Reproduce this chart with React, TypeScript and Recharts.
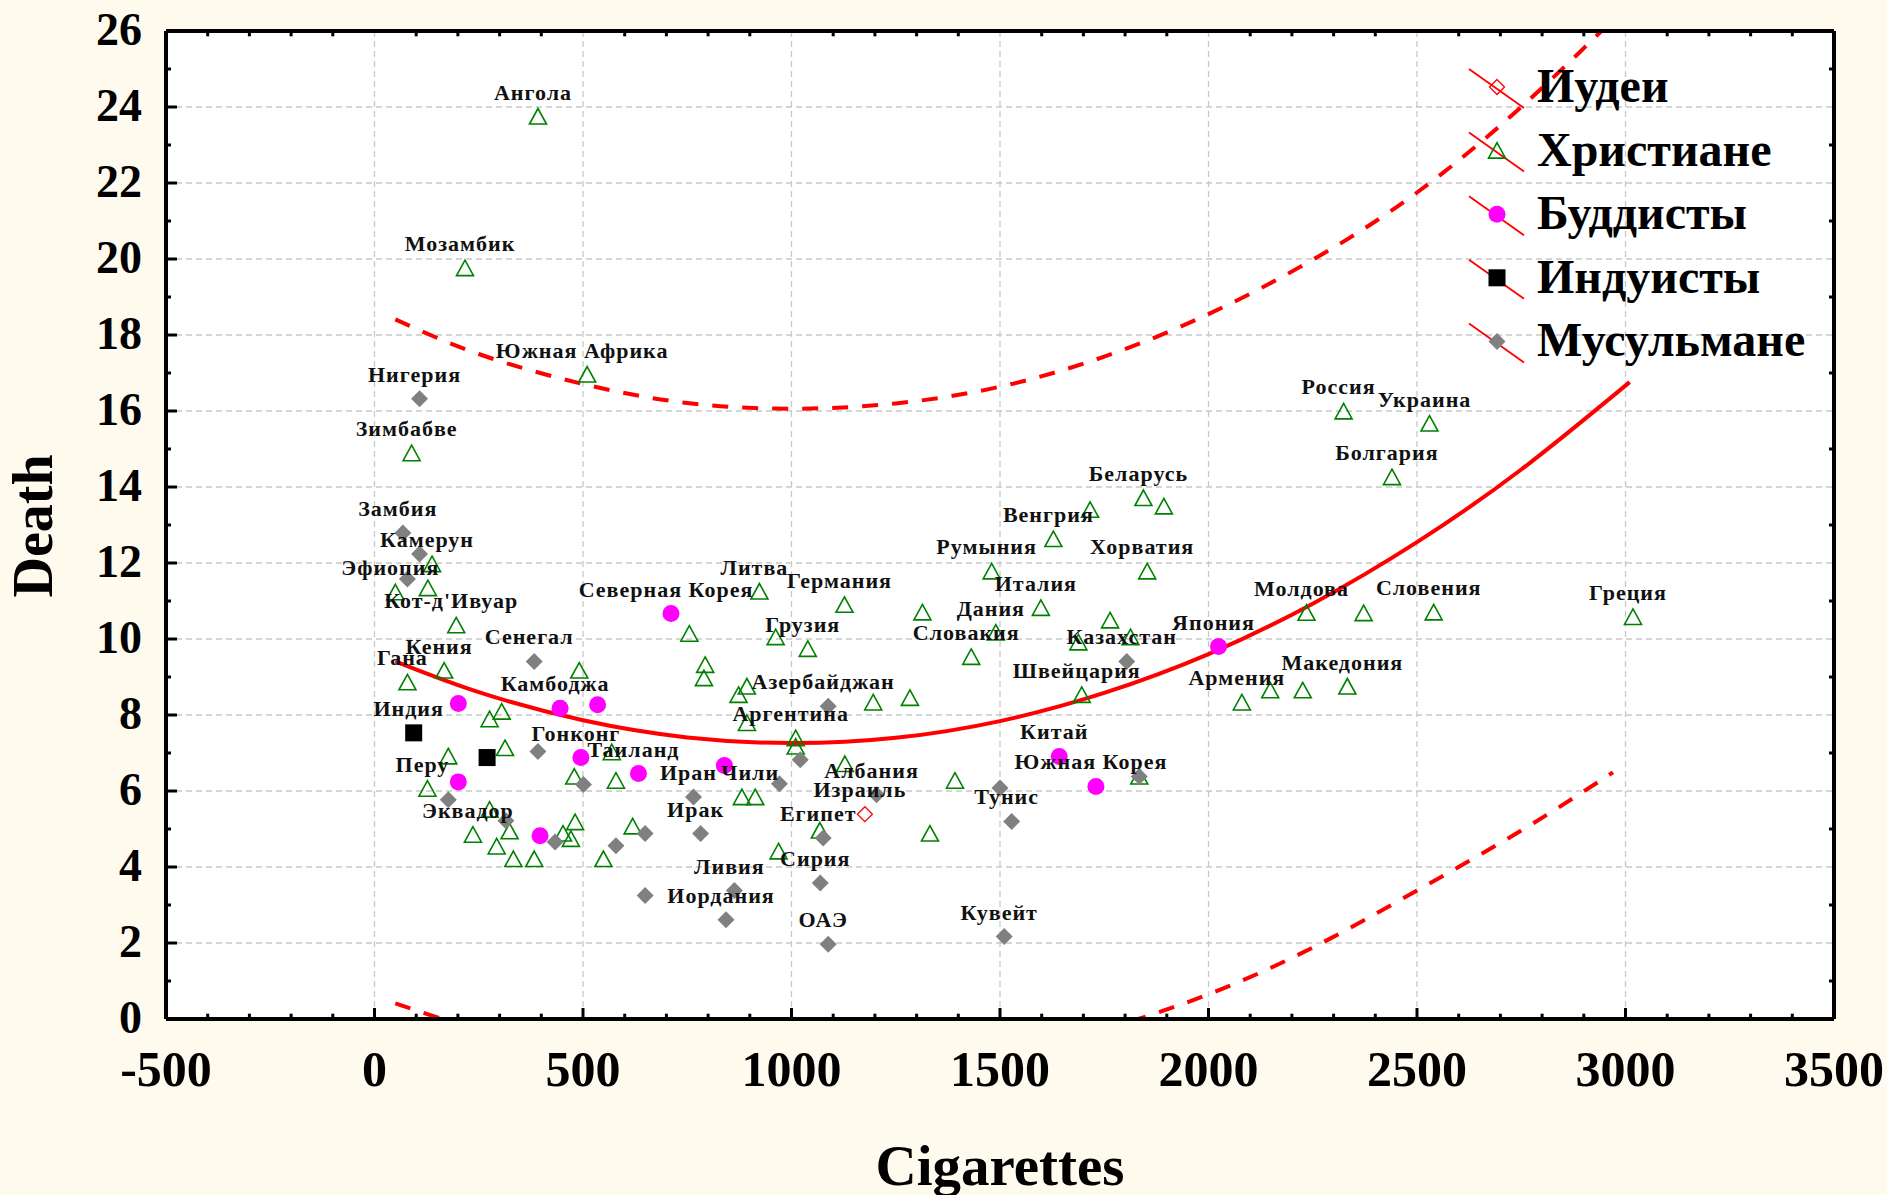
import React from 'react';
import { ComposedChart, Scatter, Line, XAxis, YAxis, CartesianGrid, ReferenceLine } from 'recharts';

// Иудеи
const jews = [{ x: 1176, y: 5.39, name: 'Израиль' }];

// Христиане
const christians = [
  { x: 392, y: 23.75, name: 'Ангола' },
  { x: 217, y: 19.76, name: 'Мозамбик' },
  { x: 510, y: 16.96, name: 'Южная Африка' },
  { x: 89, y: 14.89, name: 'Зимбабве' },
  { x: 138, y: 11.97, name: 'Камерун' },
  { x: 50, y: 11.23, name: 'Эфиопия' },
  { x: 128, y: 11.34, name: '' },
  { x: 196, y: 10.36, name: "Кот-д'Ивуар" },
  { x: 167, y: 9.17, name: 'Кения' },
  { x: 79, y: 8.86, name: 'Гана' },
  { x: 491, y: 9.17, name: '' },
  { x: 305, y: 8.09, name: '' },
  { x: 276, y: 7.89, name: '' },
  { x: 177, y: 6.91, name: '' },
  { x: 313, y: 7.13, name: '' },
  { x: 127, y: 6.06, name: 'Перу' },
  { x: 569, y: 7.02, name: '' },
  { x: 479, y: 6.38, name: '' },
  { x: 579, y: 6.27, name: '' },
  { x: 276, y: 5.51, name: '' },
  { x: 236, y: 4.85, name: 'Эквадор' },
  { x: 324, y: 4.94, name: '' },
  { x: 293, y: 4.54, name: '' },
  { x: 333, y: 4.21, name: '' },
  { x: 383, y: 4.21, name: '' },
  { x: 452, y: 4.88, name: '' },
  { x: 471, y: 4.74, name: '' },
  { x: 481, y: 5.18, name: '' },
  { x: 549, y: 4.21, name: '' },
  { x: 619, y: 5.07, name: '' },
  { x: 755, y: 10.14, name: '' },
  { x: 793, y: 9.32, name: '' },
  { x: 790, y: 8.97, name: '' },
  { x: 923, y: 11.25, name: 'Литва' },
  { x: 1127, y: 10.9, name: 'Германия' },
  { x: 962, y: 10.05, name: '' },
  { x: 1039, y: 9.74, name: 'Грузия' },
  { x: 893, y: 8.75, name: '' },
  { x: 873, y: 8.53, name: '' },
  { x: 1196, y: 8.33, name: '' },
  { x: 1284, y: 8.45, name: '' },
  { x: 893, y: 7.79, name: '' },
  { x: 1010, y: 7.39, name: 'Аргентина' },
  { x: 1010, y: 7.17, name: '' },
  { x: 1128, y: 6.71, name: '' },
  { x: 881, y: 5.84, name: '' },
  { x: 913, y: 5.84, name: 'Чили' },
  { x: 1392, y: 6.27, name: '' },
  { x: 1068, y: 4.96, name: '' },
  { x: 969, y: 4.41, name: '' },
  { x: 1332, y: 4.88, name: '' },
  { x: 1314, y: 10.7, name: '' },
  { x: 1480, y: 11.78, name: 'Румыния' },
  { x: 1598, y: 10.82, name: 'Италия' },
  { x: 1490, y: 10.17, name: 'Дания' },
  { x: 1431, y: 9.53, name: 'Словакия' },
  { x: 1628, y: 12.63, name: 'Венгрия' },
  { x: 1716, y: 13.4, name: '' },
  { x: 1844, y: 13.71, name: 'Беларусь' },
  { x: 1893, y: 13.49, name: '' },
  { x: 1853, y: 11.78, name: 'Хорватия' },
  { x: 1764, y: 10.49, name: '' },
  { x: 1813, y: 10.05, name: '' },
  { x: 1688, y: 9.91, name: '' },
  { x: 1696, y: 8.53, name: 'Швейцария' },
  { x: 1834, y: 6.38, name: '' },
  { x: 2080, y: 8.33, name: 'Армения' },
  { x: 2148, y: 8.65, name: '' },
  { x: 2226, y: 8.65, name: '' },
  { x: 2333, y: 8.75, name: 'Македония' },
  { x: 2235, y: 10.69, name: 'Молдова' },
  { x: 2372, y: 10.68, name: '' },
  { x: 2540, y: 10.7, name: 'Словения' },
  { x: 3018, y: 10.58, name: 'Греция' },
  { x: 2324, y: 15.99, name: 'Россия' },
  { x: 2530, y: 15.67, name: 'Украина' },
  { x: 2440, y: 14.26, name: 'Болгария' },
];

// Буддисты
const buddhists = [
  { x: 711, y: 10.67, name: 'Северная Корея' },
  { x: 445, y: 8.18, name: 'Камбоджа' },
  { x: 201, y: 8.3, name: '' },
  { x: 535, y: 8.27, name: '' },
  { x: 495, y: 6.88, name: 'Гонконг' },
  { x: 633, y: 6.46, name: 'Таиланд' },
  { x: 201, y: 6.24, name: '' },
  { x: 397, y: 4.82, name: '' },
  { x: 839, y: 6.67, name: '' },
  { x: 1642, y: 6.91, name: 'Китай' },
  { x: 1730, y: 6.12, name: 'Южная Корея' },
  { x: 2024, y: 9.8, name: 'Япония' },
];

// Индуисты
const hindus = [
  { x: 94, y: 7.53, name: 'Индия' },
  { x: 270, y: 6.88, name: '' },
];

// Мусульмане
const muslims = [
  { x: 108, y: 16.32, name: 'Нигерия' },
  { x: 68, y: 12.79, name: 'Замбия' },
  { x: 108, y: 12.24, name: '' },
  { x: 79, y: 11.58, name: '' },
  { x: 383, y: 9.41, name: 'Сенегал' },
  { x: 392, y: 7.04, name: '' },
  { x: 177, y: 5.77, name: '' },
  { x: 501, y: 6.17, name: '' },
  { x: 315, y: 5.22, name: '' },
  { x: 433, y: 4.66, name: '' },
  { x: 579, y: 4.56, name: '' },
  { x: 649, y: 4.88, name: '' },
  { x: 649, y: 3.25, name: '' },
  { x: 765, y: 5.84, name: 'Иран' },
  { x: 782, y: 4.88, name: 'Ирак' },
  { x: 863, y: 3.38, name: 'Ливия' },
  { x: 843, y: 2.61, name: 'Иордания' },
  { x: 1088, y: 8.23, name: 'Азербайджан' },
  { x: 1021, y: 6.82, name: '' },
  { x: 971, y: 6.19, name: '' },
  { x: 1204, y: 5.9, name: 'Албания' },
  { x: 1076, y: 4.76, name: 'Египет' },
  { x: 1069, y: 3.58, name: 'Сирия' },
  { x: 1088, y: 1.97, name: 'ОАЭ' },
  { x: 1500, y: 6.08, name: '' },
  { x: 1528, y: 5.2, name: 'Тунис' },
  { x: 1510, y: 2.17, name: 'Кувейт' },
  { x: 1804, y: 9.41, name: 'Казахстан' },
  { x: 1834, y: 6.38, name: '' },
];

// fitted curve and its dashed band
const fitX = [50, 250, 500, 750, 1000, 1250, 1500, 1750, 2000, 2250, 2500, 2750, 3010];
const fitY = [9.41, 8.6, 7.86, 7.41, 7.26, 7.4, 7.84, 8.58, 9.6, 10.93, 12.55, 14.46, 16.76];
const bandX = [50, 250, 500, 750, 1000, 1250, 1500, 1750, 2000, 2250, 2500, 2750, 2970];
const upperY = [18.41, 17.5, 16.71, 16.21, 16.06, 16.2, 16.64, 17.43, 18.55, 19.98, 21.75, 24.0, 26.3];
const lowerY = [0.41, -0.3, -1.0, -1.39, -1.54, -1.4, -0.96, -0.27, 0.65, 1.88, 3.38, 4.96, 6.49];

const xTicks = [-500, 0, 500, 1000, 1500, 2000, 2500, 3000, 3500];
const yTicks = [0, 2, 4, 6, 8, 10, 12, 14, 16, 18, 20, 22, 24, 26];
const xMinor: number[] = [];
for (let v = -400; v < 3500; v += 100) if (v % 500 !== 0) xMinor.push(v);
const yMinor = [1, 3, 5, 7, 9, 11, 13, 15, 17, 19, 21, 23, 25];

const fitData = fitX.map((x, i) => ({ x, y: fitY[i] }));
const upperData = bandX.map((x, i) => ({ x, y: upperY[i] }));
const lowerData = bandX.map((x, i) => ({ x, y: lowerY[i] }));
const labelled = [...jews, ...christians, ...buddhists, ...hindus, ...muslims].filter((d) => d.name);

const FONT = '"Liberation Serif", "Times New Roman", serif';
const BG = '#fefaee';

const triangle = (cx: number, cy: number) => (
  <path d={`M${cx},${cy - 8}L${cx + 8.5},${cy + 7.5}L${cx - 8.5},${cy + 7.5}Z`} fill="none" stroke="#008000" strokeWidth={1.6} />
);
const circle = (cx: number, cy: number) => <circle cx={cx} cy={cy} r={8.5} fill="#ff00ff" />;
const square = (cx: number, cy: number) => <rect x={cx - 8.5} y={cy - 8.5} width={17} height={17} fill="#000" />;
const diamond = (cx: number, cy: number) => (
  <path d={`M${cx},${cy - 8.5}L${cx + 8.5},${cy}L${cx},${cy + 8.5}L${cx - 8.5},${cy}Z`} fill="#808080" />
);
const openDiamond = (cx: number, cy: number) => (
  <path d={`M${cx},${cy - 7.5}L${cx + 7.5},${cy}L${cx},${cy + 7.5}L${cx - 7.5},${cy}Z`} fill="none" stroke="#ff0000" strokeWidth={1.3} />
);

const legendItems = [
  { name: 'Иудеи', icon: openDiamond },
  { name: 'Христиане', icon: triangle },
  { name: 'Буддисты', icon: circle },
  { name: 'Индуисты', icon: square },
  { name: 'Мусульмане', icon: diamond },
];

const XTick = (props: any) => (
  <text x={props.x} y={props.y + 76} textAnchor="middle" fontFamily={FONT} fontWeight="bold" fontSize={50} fill="#000">
    {props.payload.value}
  </text>
);

const YTick = (props: any) => (
  <text x={props.x - 33} y={props.y + 14} textAnchor="end" fontFamily={FONT} fontWeight="bold" fontSize={46} fill="#000">
    {props.payload.value}
  </text>
);

const CountryLabel = (props: any) => {
  const name = props.payload?.name ?? props.name;
  return (
    <text
      x={props.cx - 5}
      y={props.cy - 17}
      textAnchor="middle"
      fontFamily={FONT}
      fontWeight="bold"
      fontSize={22}
      letterSpacing={1}
      fill="#111"
    >
      {name}
    </text>
  );
};

const tickStyle = { stroke: '#000', strokeWidth: 3 };
const frameStyle = { stroke: '#000', strokeWidth: 4 };

export default function App() {
  return (
    <div style={{ position: 'absolute', left: 0, top: 0, width: 1887, height: 1195, background: BG, overflow: 'hidden' }}>
      <ComposedChart width={1887} height={1195} margin={{ top: 30, right: 52, left: 0, bottom: 0 }}>
        <CartesianGrid stroke="#c8c8c8" strokeDasharray="6 4" strokeWidth={1.3} fill="#ffffff" />
        <XAxis
          dataKey="x"
          type="number"
          domain={[-500, 3500]}
          ticks={xTicks}
          interval={0}
          allowDataOverflow
          height={176}
          tickSize={-11}
          tick={<XTick />}
          axisLine={frameStyle}
          tickLine={tickStyle}
        />
        <XAxis
          xAxisId="top"
          dataKey="x"
          orientation="top"
          type="number"
          domain={[-500, 3500]}
          ticks={xTicks}
          interval={0}
          height={1}
          tickSize={-11}
          tick={false}
          axisLine={frameStyle}
          tickLine={tickStyle}
        />
        <YAxis
          dataKey="y"
          type="number"
          domain={[0, 26]}
          ticks={yTicks}
          interval={0}
          allowDataOverflow
          width={166}
          tickSize={-11}
          tick={<YTick />}
          axisLine={frameStyle}
          tickLine={tickStyle}
        />
        <YAxis
          yAxisId="right"
          dataKey="y"
          orientation="right"
          type="number"
          domain={[0, 26]}
          ticks={yTicks}
          interval={0}
          width={1}
          tickSize={-11}
          tick={false}
          axisLine={frameStyle}
          tickLine={tickStyle}
        />
        {xMinor.map((v) => (
          <ReferenceLine key={`b${v}`} segment={[{ x: v, y: 0 }, { x: v, y: 0.14 }]} {...tickStyle} />
        ))}
        {xMinor.map((v) => (
          <ReferenceLine key={`t${v}`} segment={[{ x: v, y: 25.86 }, { x: v, y: 26 }]} {...tickStyle} />
        ))}
        {yMinor.map((v) => (
          <ReferenceLine key={`l${v}`} segment={[{ x: -500, y: v }, { x: -488, y: v }]} {...tickStyle} />
        ))}
        {yMinor.map((v) => (
          <ReferenceLine key={`r${v}`} segment={[{ x: 3488, y: v }, { x: 3500, y: v }]} {...tickStyle} />
        ))}
        <Scatter name="Иудеи" data={jews} dataKey="y" isAnimationActive={false} shape={(p: any) => openDiamond(p.cx, p.cy)} />
        <Scatter name="Христиане" data={christians} dataKey="y" isAnimationActive={false} shape={(p: any) => triangle(p.cx, p.cy)} />
        <Scatter name="Буддисты" data={buddhists} dataKey="y" isAnimationActive={false} shape={(p: any) => circle(p.cx, p.cy)} />
        <Scatter name="Индуисты" data={hindus} dataKey="y" isAnimationActive={false} shape={(p: any) => square(p.cx, p.cy)} />
        <Scatter name="Мусульмане" data={muslims} dataKey="y" isAnimationActive={false} shape={(p: any) => diamond(p.cx, p.cy)} />
        <Scatter data={labelled} dataKey="y" isAnimationActive={false} shape={<CountryLabel />} />
        <Line data={fitData} dataKey="y" type="natural" stroke="#ff0000" strokeWidth={4} dot={false} isAnimationActive={false} />
        <Line data={upperData} dataKey="y" type="natural" stroke="#ff0000" strokeWidth={4} strokeDasharray="16 14" dot={false} isAnimationActive={false} />
        <Line data={lowerData} dataKey="y" type="natural" stroke="#ff0000" strokeWidth={4} strokeDasharray="16 14" dot={false} isAnimationActive={false} />
      </ComposedChart>
      <svg width={1887} height={1195} style={{ position: 'absolute', left: 0, top: 0, pointerEvents: 'none' }}>
        <text x={52} y={526} transform="rotate(-90 52 526)" textAnchor="middle" fontFamily={FONT} fontWeight="bold" fontSize={56} fill="#000">
          Death
        </text>
        <text x={1000} y={1185} textAnchor="middle" fontFamily={FONT} fontWeight="bold" fontSize={57} fill="#000">
          Cigarettes
        </text>
        {legendItems.map((item, i) => {
          const my = 87 + i * 63.6;
          const mx = 1497;
          return (
            <g key={item.name}>
              <line x1={mx - 28} y1={my - 18} x2={mx + 27} y2={my + 21} stroke="#ff0000" strokeWidth={1.8} />
              {item.icon(mx, my)}
              <text x={1537} y={my + 15} fontFamily={FONT} fontWeight="bold" fontSize={48} fill="#000">
                {item.name}
              </text>
            </g>
          );
        })}
      </svg>
    </div>
  );
}
